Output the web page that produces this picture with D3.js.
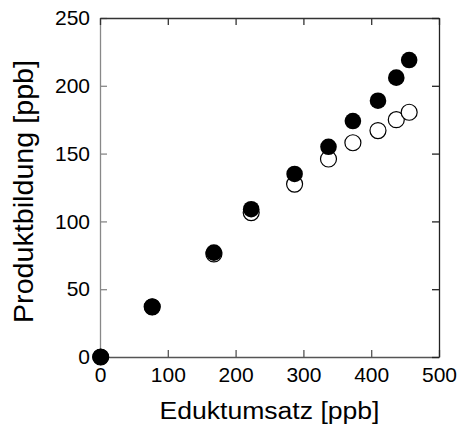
<!DOCTYPE html>
<html>
<head>
<meta charset="utf-8">
<script src="https://cdn.jsdelivr.net/npm/d3@7"></script>
<style>
  body { margin: 0; background: #fff; }
  text { font-family: "Liberation Sans", Arial, Helvetica, sans-serif; }
</style>
</head>
<body>
<div id="vizcontainer"></div>
<script>
const
  width = 458,
  height = 426,
  margin = { top: 18, right: 19, bottom: 69, left: 100 }
  ;

// Eduktumsatz [ppb] and Produktbildung [ppb]
const eduktumsatz = [1, 77, 168, 223, 287, 337, 373, 410, 437, 456];
const produktGefuellt = [0, 37, 77, 109, 135, 155, 174, 189, 206, 219];
const produktOffen = [0, 37, 76, 106.5, 127.5, 146, 158, 167, 175, 180.5];
const xTicks = [0, 100, 200, 300, 400, 500];
const yTicks = [0, 50, 100, 150, 200, 250];

const innerW = width - margin.left - margin.right;
const innerH = height - margin.top - margin.bottom;

let xScale = d3.scaleLinear()
  .domain([0, 500])
  .range([0, innerW]);

let yScale = d3.scaleLinear()
  .domain([0, 250])
  .range([innerH, 0]);

let viz = d3.select('#vizcontainer')
  .append('svg')
  .attr('width', width)
  .attr('height', height);

let g = viz.append('g')
  .attr('transform', `translate(${margin.left},${margin.top})`);

// axes, ticks pointing inward
let yAxis = g.append('g')
  .call(d3.axisLeft(yScale).tickValues(yTicks).tickSize(-7).tickSizeOuter(0).tickPadding(10));
let xAxis = g.append('g')
  .attr('transform', `translate(0,${innerH})`)
  .call(d3.axisBottom(xScale).tickValues(xTicks).tickSize(-7).tickSizeOuter(0).tickPadding(10));
let topAxis = g.append('g')
  .call(d3.axisTop(xScale).tickValues(xTicks).tickSize(-7).tickSizeOuter(0).tickFormat(''));
let rightAxis = g.append('g')
  .attr('transform', `translate(${innerW},0)`)
  .call(d3.axisRight(yScale).tickValues(yTicks).tickSize(-7).tickSizeOuter(0).tickFormat(''));

[yAxis, xAxis].forEach(a => {
  a.selectAll('text').attr('font-size', 21).attr('fill', '#000')
    .style('font-family', '"Liberation Sans", Arial, Helvetica, sans-serif');
});
yAxis.selectAll('path, line').attr('stroke', '#888').attr('stroke-width', 1.3);
xAxis.selectAll('path, line').attr('stroke', '#555').attr('stroke-width', 1.3);
topAxis.selectAll('path, line').attr('stroke', '#333').attr('stroke-width', 1.3);
rightAxis.selectAll('path, line').attr('stroke', '#222').attr('stroke-width', 1.3);

// open circles below, filled on top
g.append('g').selectAll('circle')
  .data(eduktumsatz)
  .join('circle')
  .attr('cx', d => xScale(d))
  .attr('cy', (d, i) => yScale(produktOffen[i]))
  .attr('r', 8)
  .attr('fill', '#fff')
  .attr('stroke', '#000')
  .attr('stroke-width', 1.2);

g.append('g').selectAll('circle')
  .data(eduktumsatz)
  .join('circle')
  .attr('cx', d => xScale(d))
  .attr('cy', (d, i) => yScale(produktGefuellt[i]))
  .attr('r', 8.3)
  .attr('fill', '#000');

// titles
viz.append('text')
  .attr('x', margin.left + innerW / 2)
  .attr('y', 419)
  .attr('text-anchor', 'middle')
  .attr('font-size', 23)
  .attr('textLength', 220)
  .attr('lengthAdjust', 'spacingAndGlyphs')
  .text('Eduktumsatz [ppb]');

viz.append('text')
  .attr('transform', `translate(33,191.5) rotate(-90)`)
  .attr('text-anchor', 'middle')
  .attr('font-size', 27)
  .attr('textLength', 263)
  .attr('lengthAdjust', 'spacingAndGlyphs')
  .text('Produktbildung [ppb]');
</script>
</body>
</html>
